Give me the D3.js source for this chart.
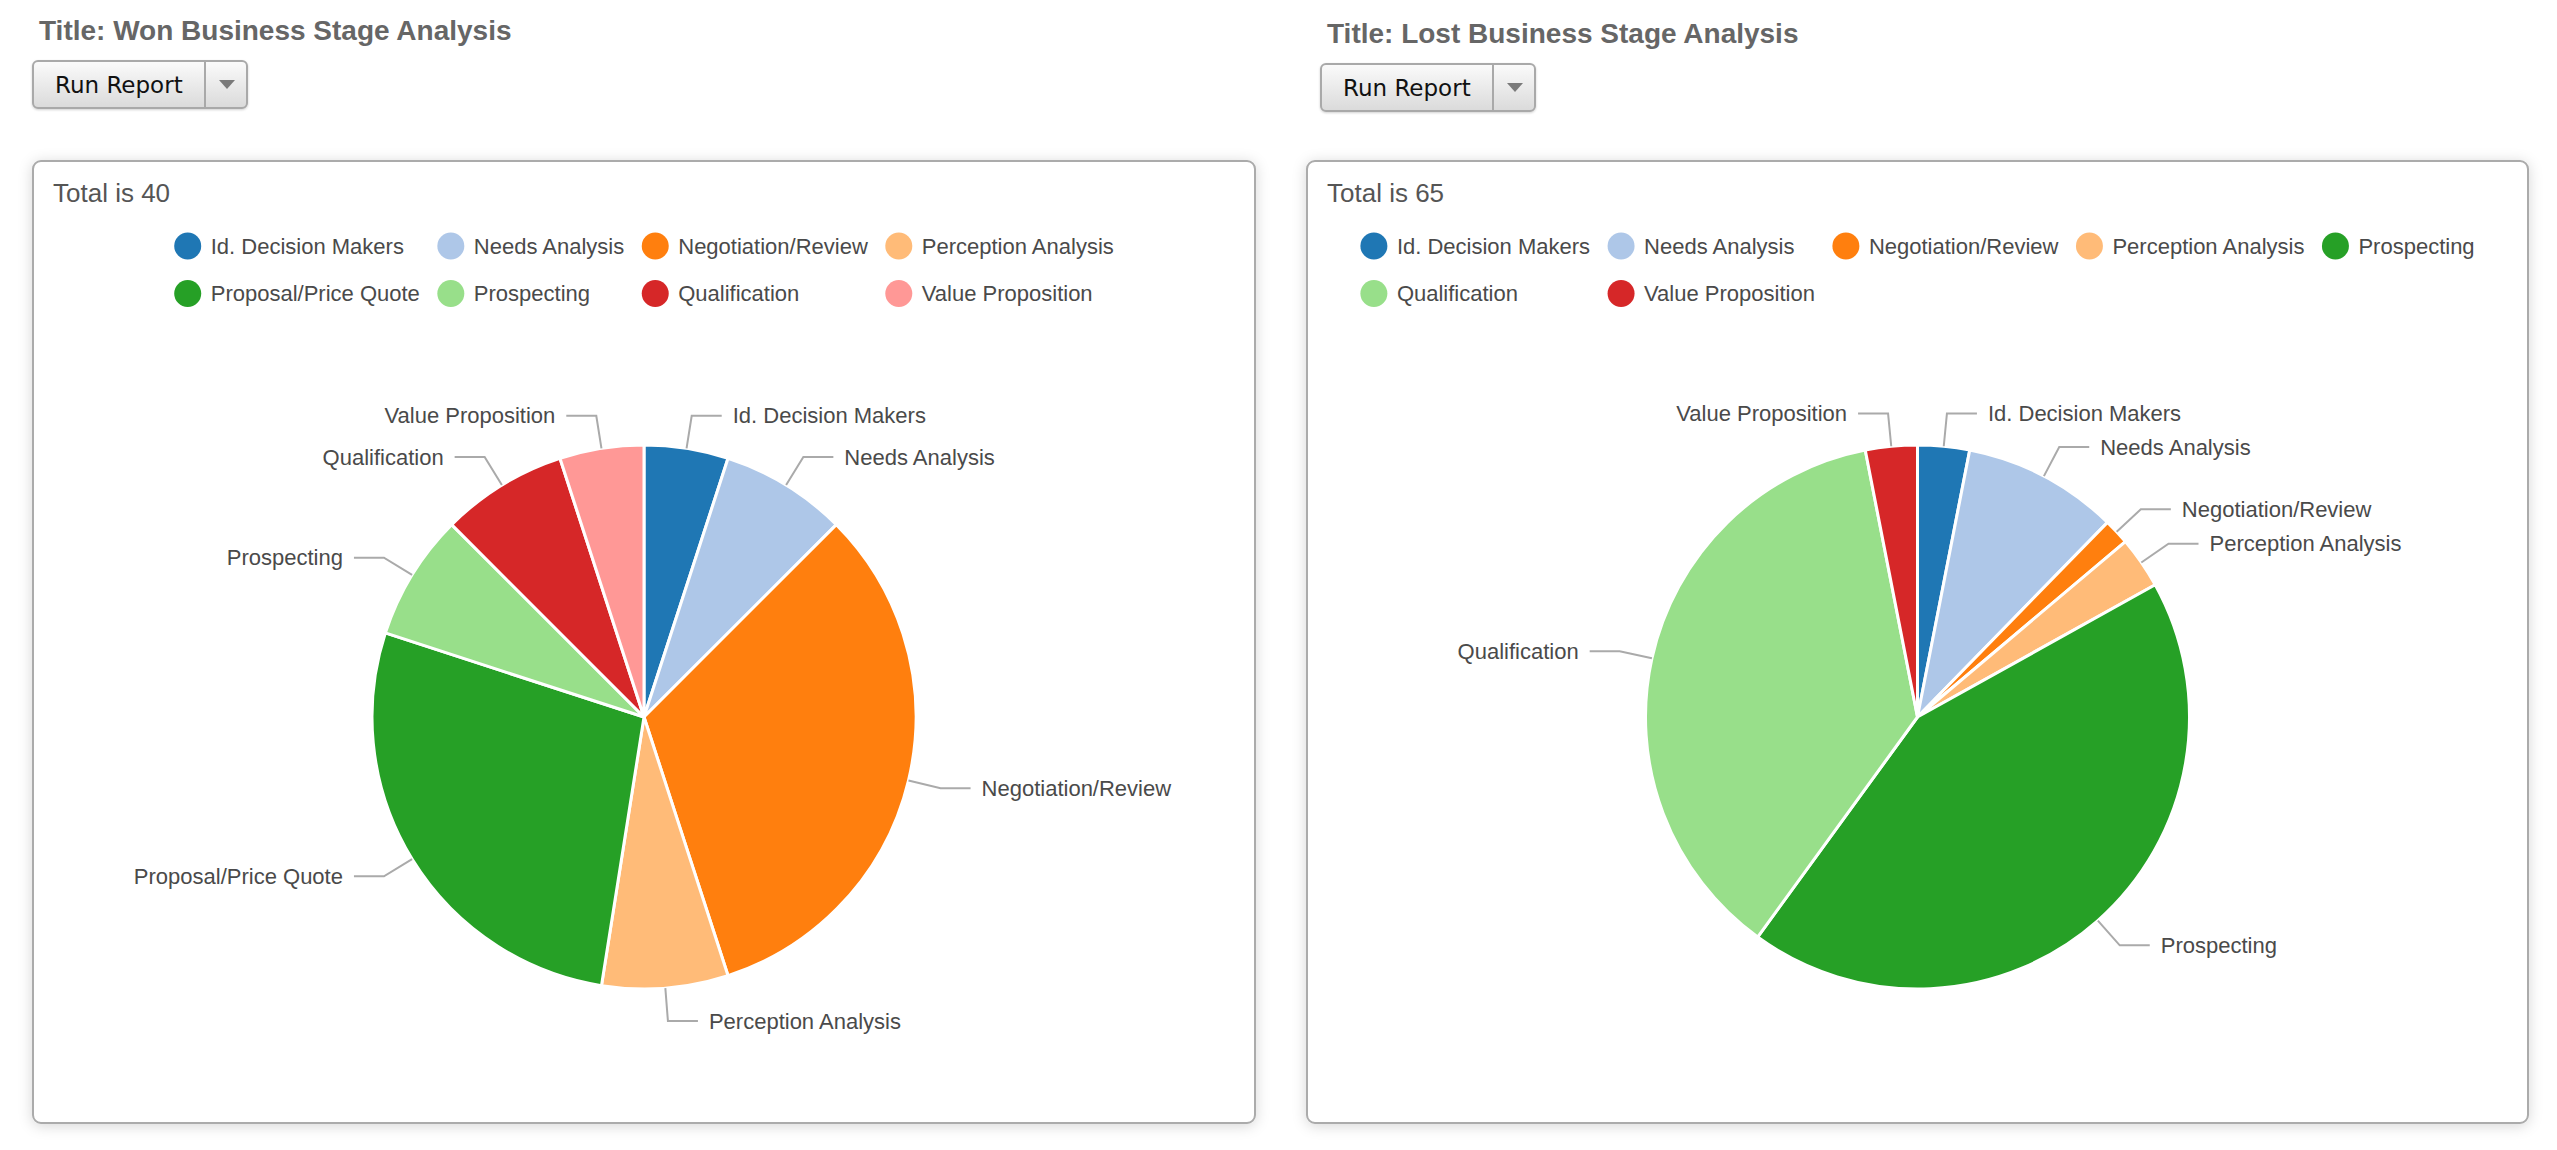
<!DOCTYPE html>
<html>
<head>
<meta charset="utf-8">
<script src="https://cdn.jsdelivr.net/npm/d3@7"></script>
<style>
  html, body { margin: 0; padding: 0; background: #ffffff; }
  svg { display: block; }
</style>
</head>
<body>
<svg id="chart" width="2557" height="1150"></svg>
<script>
// ---------------- DATA ----------------
const wonTitle = "Title: Won Business Stage Analysis";
const wonCategories = ["Id. Decision Makers", "Needs Analysis", "Negotiation/Review", "Perception Analysis",
  "Proposal/Price Quote", "Prospecting", "Qualification", "Value Proposition"];
const wonValues = [2, 3, 13, 3, 11, 3, 3, 2];

const lostTitle = "Title: Lost Business Stage Analysis";
const lostCategories = ["Id. Decision Makers", "Needs Analysis", "Negotiation/Review", "Perception Analysis",
  "Prospecting", "Qualification", "Value Proposition"];
const lostValues = [2, 6, 1, 2, 28, 24, 2];

const palette = ["#1f77b4", "#aec7e8", "#ff7f0e", "#ffbb78", "#26a026", "#98df8a", "#d62728", "#ff9896"];
const buttonLabel = "Run Report";

// ---------------- LAYOUT ----------------
const svg = d3.select("#chart");
const defs = svg.append("defs");

const grad = defs.append("linearGradient").attr("id", "btnGrad").attr("x1", 0).attr("y1", 0).attr("x2", 0).attr("y2", 1);
grad.append("stop").attr("offset", "0%").attr("stop-color", "#fbfbfb");
grad.append("stop").attr("offset", "100%").attr("stop-color", "#dadada");

const shadow = defs.append("filter").attr("id", "panelShadow")
  .attr("x", "-5%").attr("y", "-5%").attr("width", "110%").attr("height", "110%");
shadow.append("feDropShadow").attr("dx", 0).attr("dy", 2).attr("stdDeviation", 7)
  .attr("flood-color", "#000").attr("flood-opacity", 0.16);

const btnShadow = defs.append("filter").attr("id", "btnShadow")
  .attr("x", "-10%").attr("y", "-20%").attr("width", "120%").attr("height", "150%");
btnShadow.append("feDropShadow").attr("dx", 0).attr("dy", 1).attr("stdDeviation", 1.2)
  .attr("flood-color", "#000").attr("flood-opacity", 0.18);

const textFont = "'Liberation Sans', Arial, Helvetica, sans-serif";

function drawReport(cfg) {
  const g = svg.append("g");

  // title
  g.append("text")
    .attr("x", cfg.titleX).attr("y", cfg.titleY)
    .attr("font-family", textFont).attr("font-weight", "bold").attr("font-size", 28)
    .attr("fill", "#666").text(cfg.title);

  // Run Report button
  const b = g.append("g").attr("transform", `translate(${cfg.btnX},${cfg.btnY})`);
  b.append("rect").attr("x", 0).attr("y", 0).attr("width", 214).attr("height", 47).attr("rx", 5)
    .attr("fill", "url(#btnGrad)").attr("stroke", "#a9a9a9").attr("stroke-width", 2)
    .attr("filter", "url(#btnShadow)");
  b.append("line").attr("x1", 172).attr("x2", 172).attr("y1", 1).attr("y2", 46)
    .attr("stroke", "#a9a9a9").attr("stroke-width", 2);
  b.append("text").attr("x", 22).attr("y", 32)
    .attr("font-family", "'DejaVu Sans', 'Lucida Grande', sans-serif").attr("font-size", 23)
    .attr("fill", "#111").text(buttonLabel);
  b.append("path").attr("d", "M186,19 L202,19 L194,28 Z").attr("fill", "#7a7a7a");

  // panel
  g.append("rect").attr("x", cfg.px).attr("y", cfg.py).attr("width", cfg.pw).attr("height", cfg.ph)
    .attr("rx", 8).attr("fill", "#fff").attr("stroke", "#ababab").attr("stroke-width", 2)
    .attr("filter", "url(#panelShadow)");

  const total = d3.sum(cfg.values);
  g.append("text").attr("x", cfg.px + 20).attr("y", cfg.py + 41)
    .attr("font-family", textFont).attr("font-size", 26).attr("fill", "#555")
    .text("Total is " + total);

  const color = d3.scaleOrdinal().domain(cfg.categories).range(palette);

  // legend (columns layout, centred on panel)
  const cx = cfg.px + cfg.pw / 2;
  const legend = g.append("g");
  const items = legend.selectAll("g.item").data(cfg.categories).enter().append("g").attr("class", "item");
  items.append("circle").attr("r", 13.5).attr("fill", d => color(d));
  items.append("text").attr("x", 23).attr("dy", "0.35em")
    .attr("font-family", textFont).attr("font-size", 22).attr("fill", "#4a4a4a")
    .text(d => d);
  const widths = [];
  items.selectAll("text").each(function () { widths.push(this.getComputedTextLength()); });
  const maxLegendWidth = 1150;
  const itemW = w => 23 + w + 31;
  let cols = cfg.categories.length, colW = [];
  for (; cols > 0; cols--) {
    colW = d3.range(cols).map(c => d3.max(widths.filter((w, i) => i % cols === c), itemW));
    const lastW = d3.max(widths.filter((w, i) => i % cols === cols - 1)) + 23;
    const tw = 13.5 + d3.sum(colW.slice(0, cols - 1)) + lastW;
    if (tw <= maxLegendWidth) { colW.total = tw; break; }
  }
  const colX = [0];
  for (let c = 1; c < cols; c++) colX.push(colX[c - 1] + colW[c - 1]);
  const startX = cx - colW.total / 2 + 13.5;
  items.attr("transform", (d, i) =>
    `translate(${startX + colX[i % cols]},${cfg.py + 85 + Math.floor(i / cols) * 47.5})`);

  // pie
  const r = 272, rLabel = 305;
  const pie = d3.pie().sort(null).value(d => d);
  const arcs = pie(cfg.values);
  const arc = d3.arc().innerRadius(0).outerRadius(r);
  const pg = g.append("g").attr("transform", `translate(${cx},${cfg.pieCY})`);

  pg.selectAll("path.slice").data(arcs).enter().append("path").attr("class", "slice")
    .attr("d", arc).attr("fill", (d, i) => color(cfg.categories[i]))
    .attr("stroke", "#fff").attr("stroke-width", 3).attr("stroke-linejoin", "round");

  const labels = pg.selectAll("g.lbl").data(arcs).enter().append("g").attr("class", "lbl");
  labels.each(function (d, i) {
    const a = (d.startAngle + d.endAngle) / 2;
    const s = Math.sin(a), c = -Math.cos(a);
    const side = s >= 0 ? 1 : -1;
    const p0 = [r * s, r * c], p1 = [rLabel * s, rLabel * c], p2 = [p1[0] + side * 30, p1[1]];
    const sel = d3.select(this);
    sel.append("polyline").attr("points", [p0, p1, p2].map(p => p.join(",")).join(" "))
      .attr("fill", "none").attr("stroke", "#aaa").attr("stroke-width", 2);
    sel.append("text").attr("x", p2[0] + side * 11).attr("y", p2[1]).attr("dy", "0.35em")
      .attr("text-anchor", side > 0 ? "start" : "end")
      .attr("font-family", textFont).attr("font-size", 22).attr("fill", "#4a4a4a")
      .text(cfg.categories[i]);
  });
}

drawReport({
  title: wonTitle, categories: wonCategories, values: wonValues,
  titleX: 39, titleY: 40, btnX: 33, btnY: 61,
  px: 33, py: 161, pw: 1222, ph: 962, pieCY: 717
});
drawReport({
  title: lostTitle, categories: lostCategories, values: lostValues,
  titleX: 1327, titleY: 43, btnX: 1321, btnY: 64,
  px: 1307, py: 161, pw: 1221, ph: 962, pieCY: 717
});
</script>
</body>
</html>
